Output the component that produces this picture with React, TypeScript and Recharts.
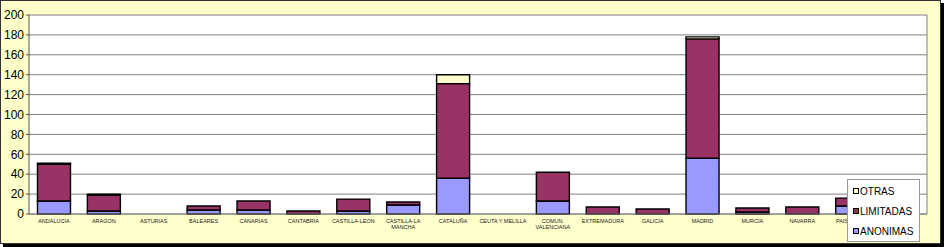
import { BarChart, Bar, XAxis, YAxis, CartesianGrid } from 'recharts';

// sociedades por comunidad
const regions = [
  'ANDALUCIA',
  'ARAGON',
  'ASTURIAS',
  'BALEARES',
  'CANARIAS',
  'CANTABRIA',
  'CASTILLA-LEON',
  'CASTILLA-LA\nMANCHA',
  'CATALUÑA',
  'CEUTA Y MELILLA',
  'COMUN.\nVALENCIANA',
  'EXTREMADURA',
  'GALICIA',
  'MADRID',
  'MURCIA',
  'NAVARRA',
  'PAIS VASCO',
  'RIOJA',
];
const anonimas = [13, 3, 0, 4, 4, 0, 3, 9, 36, 0, 13, 0, 0, 56, 2, 0, 8, 0];
const limitadas = [37, 16, 0, 4, 9, 3, 12, 3, 95, 0, 29, 7, 5, 120, 4, 7, 8, 2];
const otras = [1, 1, 0, 0, 0, 0, 0, 0, 9, 0, 0, 0, 0, 2, 0, 0, 0, 0];
const yTicks = [0, 20, 40, 60, 80, 100, 120, 140, 160, 180, 200];

const series = [
  { key: 'anonimas', name: 'ANONIMAS', color: '#9999FF' },
  { key: 'limitadas', name: 'LIMITADAS', color: '#993366' },
  { key: 'otras', name: 'OTRAS', color: '#FFFFCC' },
];

const data = regions.map((region, i) => ({
  region,
  anonimas: anonimas[i],
  limitadas: limitadas[i],
  otras: otras[i],
}));

const FONT = '"Liberation Sans", Arial, sans-serif';

function RegionTick(props: any) {
  const { x, y, payload } = props;
  const lines = String(payload.value).split('\n');
  return (
    <text x={x} y={y + 9} textAnchor="middle" fontSize={5.5} fill="#222" fontFamily={FONT}>
      {lines.map((line, i) => (
        <tspan key={i} x={x} dy={i === 0 ? 0 : 6}>
          {line}
        </tspan>
      ))}
    </text>
  );
}

// legend sits on top of the plot like in excel, so it's drawn outside the chart layout
function LegendBox() {
  const items = [...series].reverse();
  return (
    <div
      style={{
        position: 'absolute',
        left: 847,
        top: 179,
        width: 71,
        height: 60,
        background: '#fff',
        border: '1px solid #999',
        fontFamily: FONT,
        fontSize: 10,
        paddingTop: 1,
        boxSizing: 'content-box',
      }}
    >
      {items.map((item) => (
        <div key={item.key} style={{ height: 20, display: 'flex', alignItems: 'center', paddingLeft: 5 }}>
          <span
            style={{
              width: 4,
              height: 4,
              border: '1px solid #000',
              background: item.color,
              marginRight: 1,
              display: 'inline-block',
            }}
          />
          <span style={{ color: '#000' }}>{item.name}</span>
        </div>
      ))}
    </div>
  );
}

export default function App() {
  return (
    <div style={{ position: 'absolute', left: 0, top: 0, width: 944, height: 247 }}>
      <div
        style={{
          position: 'absolute',
          left: 0,
          top: 0,
          width: 939,
          height: 242,
          background: '#FFFFCC',
          border: '1px solid #333',
          boxShadow: '3px 3px 0 #000',
        }}
      />
      <div style={{ position: 'absolute', left: 0, top: 0 }}>
        <BarChart
          width={944}
          height={247}
          data={data}
          margin={{ top: 15, right: 0, bottom: 0, left: 0 }}
          barCategoryGap="17%"
        >
          <CartesianGrid vertical={false} stroke="#808080" fill="#fff" />
          <XAxis
            dataKey="region"
            interval={0}
            height={33}
            tickLine={false}
            tickSize={0}
            tickMargin={0}
            axisLine={{ stroke: '#808080' }}
            tick={<RegionTick />}
          />
          <YAxis
            domain={[0, 200]}
            ticks={yTicks}
            interval={0}
            width={29}
            tickSize={3}
            tickMargin={2}
            axisLine={{ stroke: '#555' }}
            tickLine={{ stroke: '#555' }}
            tick={{ fontSize: 12, fill: '#000', fontFamily: FONT }}
          />
          <YAxis
            yAxisId="right"
            orientation="right"
            domain={[0, 200]}
            width={17}
            tick={false}
            tickLine={false}
            axisLine={{ stroke: '#808080' }}
          />
          {series.map((s) => (
            <Bar
              key={s.key}
              dataKey={s.key}
              name={s.name}
              stackId="s"
              fill={s.color}
              stroke="#000"
              strokeWidth={1.4}
              isAnimationActive={false}
            />
          ))}
        </BarChart>
      </div>
      <LegendBox />
    </div>
  );
}
